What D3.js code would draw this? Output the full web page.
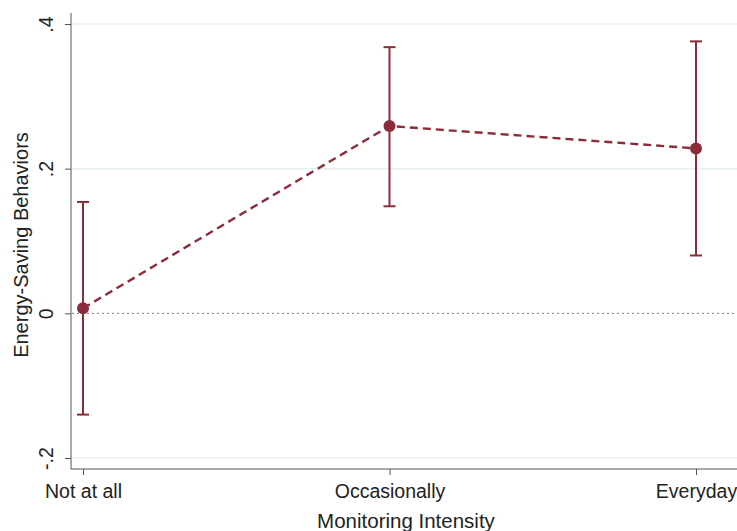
<!DOCTYPE html>
<html lang="en">
<head>
  <meta charset="UTF-8">
  <title>Energy-Saving Behaviors</title>
  <style>
    body { margin: 0; background: #fff; }
    svg { font-family: "Liberation Sans", Arial, sans-serif; }
  </style>
</head>
<body>
  <script src="https://d3js.org/d3.v7.min.js"></script>
  <svg id="chart" width="737" height="531"></svg>
  <script>
    // data
    const categories = ['Not at all', 'Occasionally', 'Everyday']
    const estimates = [0.007, 0.259, 0.228]
    const lower = [-0.140, 0.148, 0.080]
    const upper = [0.154, 0.368, 0.376]
    const yTicks = [-0.2, 0, 0.2, 0.4]
    const yTickLabels = ['-.2', '0', '.2', '.4']

    const color = '#8c2c3a'
    const svg = d3.select('#chart')

    const x = d3.scalePoint().domain(categories).range([83, 696])
    const y = d3.scaleLinear().domain([-0.2, 0.4]).range([458, 24])

    // grid lines
    svg.append('g')
      .selectAll('line')
      .data(yTicks.filter(d => d !== 0))
      .enter()
      .append('line')
      .attr('x1', 72)
      .attr('x2', 737)
      .attr('y1', d => y(d))
      .attr('y2', d => y(d))
      .attr('stroke', '#e6eff1')
      .attr('stroke-width', 1.5)

    // zero reference line
    svg.append('line')
      .attr('x1', 72)
      .attr('x2', 737)
      .attr('y1', y(0))
      .attr('y2', y(0))
      .attr('stroke', '#777')
      .attr('stroke-width', 1)
      .attr('stroke-dasharray', '2,3')

    // y axis
    let yAxis = svg.append('g')
      .attr('transform', 'translate(71,0)')
      .call(d3.axisLeft(y).tickValues(yTicks).tickSize(6).tickFormat((d, i) => yTickLabels[i]))
    yAxis.select('.domain').attr('d', 'M0,13V469').attr('stroke', '#555')
    yAxis.selectAll('.tick line').attr('stroke', '#555')
    yAxis.selectAll('.tick text')
      .attr('font-size', 19.5)
      .attr('fill', '#222')
      .attr('x', 0)
      .attr('dy', 0)
      .attr('text-anchor', 'middle')
      .attr('transform', 'translate(-18,0) rotate(-90)')

    // x axis
    let xAxis = svg.append('g')
      .attr('transform', 'translate(0,469)')
      .call(d3.axisBottom(x).tickSize(6))
    xAxis.select('.domain').attr('d', 'M71,0H737').attr('stroke', '#555')
    xAxis.selectAll('.tick line').attr('stroke', '#555')
    xAxis.selectAll('.tick text')
      .attr('font-size', 19.5)
      .attr('fill', '#222')
      .attr('dy', 0)
      .attr('y', 29)

    // axis titles
    svg.append('text')
      .attr('x', 406)
      .attr('y', 528)
      .attr('text-anchor', 'middle')
      .attr('font-size', 20.5)
      .attr('fill', '#222')
      .text('Monitoring Intensity')
    svg.append('text')
      .attr('transform', 'translate(28,245) rotate(-90)')
      .attr('text-anchor', 'middle')
      .attr('font-size', 20)
      .attr('fill', '#222')
      .text('Energy-Saving Behaviors')

    // dashed connecting line
    let line = d3.line()
      .x((d, i) => x(categories[i]))
      .y(d => y(d))
    svg.append('path')
      .attr('d', line(estimates))
      .attr('fill', 'none')
      .attr('stroke', color)
      .attr('stroke-width', 2.4)
      .attr('stroke-dasharray', '8,5')

    // confidence intervals
    let ci = svg.append('g').selectAll('g')
      .data(categories)
      .enter()
      .append('g')
    ci.append('line')
      .attr('x1', d => x(d))
      .attr('x2', d => x(d))
      .attr('y1', (d, i) => y(lower[i]))
      .attr('y2', (d, i) => y(upper[i]))
      .attr('stroke', color)
      .attr('stroke-width', 2)
    ci.append('line')
      .attr('x1', d => x(d) - 6)
      .attr('x2', d => x(d) + 6)
      .attr('y1', (d, i) => y(upper[i]))
      .attr('y2', (d, i) => y(upper[i]))
      .attr('stroke', color)
      .attr('stroke-width', 2)
    ci.append('line')
      .attr('x1', d => x(d) - 6)
      .attr('x2', d => x(d) + 6)
      .attr('y1', (d, i) => y(lower[i]))
      .attr('y2', (d, i) => y(lower[i]))
      .attr('stroke', color)
      .attr('stroke-width', 2)
    ci.append('circle')
      .attr('cx', d => x(d))
      .attr('cy', (d, i) => y(estimates[i]))
      .attr('r', 6)
      .attr('fill', color)
  </script>
</body>
</html>
